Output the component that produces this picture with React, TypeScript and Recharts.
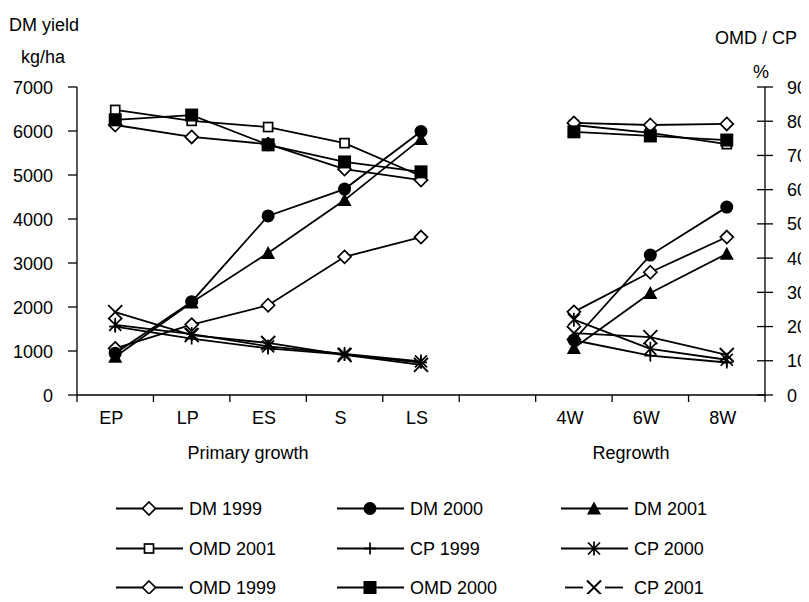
import { LineChart, Line, XAxis, YAxis } from "recharts";

const categories = ["EP", "LP", "ES", "S", "LS", "", "4W", "6W", "8W"];

// kg/ha, left axis
const dm1999 = [1060, 1600, 2040, 3140, 3590, null, 1890, 2790, 3590];
const dm2000 = [950, 2120, 4070, 4680, 5990, null, 1250, 3180, 4270];
const dm2001 = [870, 2100, 3230, 4430, 5820, null, 1070, 2320, 3210];
// %, right axis
const omd2001 = [83.3, 80.1, 78.3, 73.6, 64.0, null, 78.9, 76.6, 73.3];
const cp1999 = [20.0, 16.5, 13.6, 11.8, 9.5, null, 16.0, 11.5, 9.5];
const cp2000 = [20.5, 17.8, 14.2, 12.0, 9.8, null, 22.0, 13.5, 10.3];
const omd1999 = [78.9, 75.4, 73.3, 66.0, 62.8, null, 79.5, 78.9, 79.2];
const omd2000 = [80.4, 81.8, 73.1, 68.1, 65.2, null, 76.9, 75.7, 74.5];
const cp2001 = [24.2, 17.5, 15.2, 11.7, 8.8, null, 18.1, 16.9, 11.7];

const leftTicks = [0, 1000, 2000, 3000, 4000, 5000, 6000, 7000];
const rightTicks = [0, 10, 20, 30, 40, 50, 60, 70, 80, 90];

const series = [
  { key: "dm1999", label: "DM 1999", values: dm1999, axis: "left", shape: "diamond" },
  { key: "dm2000", label: "DM 2000", values: dm2000, axis: "left", shape: "circle" },
  { key: "dm2001", label: "DM 2001", values: dm2001, axis: "left", shape: "triangle" },
  { key: "omd2001", label: "OMD 2001", values: omd2001, axis: "right", shape: "square" },
  { key: "cp1999", label: "CP 1999", values: cp1999, axis: "right", shape: "plus" },
  { key: "cp2000", label: "CP 2000", values: cp2000, axis: "right", shape: "star" },
  { key: "omd1999", label: "OMD 1999", values: omd1999, axis: "right", shape: "diamond" },
  { key: "omd2000", label: "OMD 2000", values: omd2000, axis: "right", shape: "fsquare" },
  { key: "cp2001", label: "CP 2001", values: cp2001, axis: "right", shape: "x" },
];

const data = categories.map((cat, i) => {
  const row: any = { cat };
  series.forEach((s) => (row[s.key] = s.values[i]));
  return row;
});

const FONT = "'Liberation Sans', Arial, sans-serif";
const W = 801;
const H = 586;
const PLOT_L = 69;
const PLOT_R = 757;
const BAND = (PLOT_R - PLOT_L) / categories.length;

const Marker = ({ shape, cx, cy }: any) => {
  const sw = 1.7;
  switch (shape) {
    case "diamond":
      return (
        <polygon
          points={`${cx},${cy - 6.5} ${cx + 6.5},${cy} ${cx},${cy + 6.5} ${cx - 6.5},${cy}`}
          fill="#fff"
          stroke="#000"
          strokeWidth={sw}
        />
      );
    case "circle":
      return <circle cx={cx} cy={cy} r={6.5} fill="#000" />;
    case "triangle":
      return <polygon points={`${cx},${cy - 7} ${cx + 7},${cy + 6} ${cx - 7},${cy + 6}`} fill="#000" />;
    case "square":
      return <rect x={cx - 4.5} y={cy - 4.5} width={9} height={9} fill="#fff" stroke="#000" strokeWidth={sw} />;
    case "fsquare":
      return <rect x={cx - 6.5} y={cy - 6.5} width={13} height={13} fill="#000" />;
    case "plus":
      return (
        <g stroke="#000" strokeWidth={sw}>
          <line x1={cx - 6} y1={cy} x2={cx + 6} y2={cy} />
          <line x1={cx} y1={cy - 6} x2={cx} y2={cy + 6} />
        </g>
      );
    case "star":
      return (
        <g stroke="#000" strokeWidth={sw}>
          <line x1={cx - 6} y1={cy - 6} x2={cx + 6} y2={cy + 6} />
          <line x1={cx - 6} y1={cy + 6} x2={cx + 6} y2={cy - 6} />
          <line x1={cx} y1={cy - 7} x2={cx} y2={cy + 7} />
        </g>
      );
    case "x":
      return (
        <g stroke="#000" strokeWidth={1.9}>
          <line x1={cx - 7} y1={cy - 7} x2={cx + 7} y2={cy + 7} />
          <line x1={cx - 7} y1={cy + 7} x2={cx + 7} y2={cy - 7} />
        </g>
      );
    default:
      return null;
  }
};

const makeDot = (shape: string, key: string) => (p: any) => {
  const k = `${key}-${p.index}`;
  if (p.value == null || p.cy == null || isNaN(p.cy)) return <g key={k} />;
  return (
    <g key={k}>
      <Marker shape={shape} cx={p.cx} cy={p.cy} />
    </g>
  );
};

const CatTick = (props: any) => {
  const { x, y, payload, index } = props;
  const left = x - BAND / 2;
  return (
    <g>
      <line x1={left} y1={y} x2={left} y2={y + 7} stroke="#000" strokeWidth={1.3} />
      {index === categories.length - 1 && (
        <line x1={x + BAND / 2} y1={y} x2={x + BAND / 2} y2={y + 7} stroke="#000" strokeWidth={1.3} />
      )}
      <text x={x - 4} y={y + 29} textAnchor="middle" fontSize={18} fontFamily={FONT} fill="#000">
        {payload.value}
      </text>
    </g>
  );
};

const RightTick = (props: any) => {
  const { x, y, payload } = props;
  const axisX = x - 8 - 14;
  return (
    <g>
      <line x1={axisX - 8} y1={y} x2={axisX} y2={y} stroke="#000" strokeWidth={1.3} />
      <text x={x} y={y + 6.5} textAnchor="start" fontSize={18} fontFamily={FONT} fill="#000">
        {payload.value}
      </text>
    </g>
  );
};

const LeftTick = (props: any) => {
  const { x, y, payload } = props;
  return (
    <text x={x} y={y + 6.5} textAnchor="end" fontSize={18} fontFamily={FONT} fill="#000">
      {payload.value}
    </text>
  );
};

const legendCols = [108, 329, 553];
const legendRows = [507, 547, 586];

const LegendOverlay = () => (
  <svg
    width={W}
    height={H}
    style={{ position: "absolute", left: 0, top: 0, overflow: "visible", pointerEvents: "none" }}
  >
    <g fontFamily={FONT} fontSize={18} fill="#000">
      <text x={1} y={23}>DM yield</text>
      <text x={13} y={55}>kg/ha</text>
      <text x={707} y={36}>OMD / CP</text>
      <text x={745} y={70}>%</text>
      <text x={240} y={451} textAnchor="middle">Primary growth</text>
      <text x={623} y={451} textAnchor="middle">Regrowth</text>
    </g>
    {series.map((s, i) => {
      const lx = legendCols[i % 3];
      const base = legendRows[Math.floor(i / 3)];
      const ly = base - 6.5;
      return (
        <g key={s.key}>
          {s.shape === "x" ? (
            <g stroke="#000" strokeWidth={1.8}>
              <line x1={lx + 4} y1={ly} x2={lx + 22} y2={ly} />
              <line x1={lx + 44} y1={ly} x2={lx + 62} y2={ly} />
            </g>
          ) : (
            <line x1={lx} y1={ly} x2={lx + 67} y2={ly} stroke="#000" strokeWidth={1.8} />
          )}
          <Marker shape={s.shape} cx={lx + 33} cy={ly} />
          <text x={lx + 73} y={base} fontFamily={FONT} fontSize={18} fill="#000">
            {s.label}
          </text>
        </g>
      );
    })}
  </svg>
);

export default function App() {
  return (
    <div style={{ position: "relative", width: W, height: H, background: "#fff" }}>
      <LineChart
        width={W}
        height={H}
        data={data}
        margin={{ top: 79, right: 0, bottom: 169, left: 0 }}
      >
        <XAxis
          dataKey="cat"
          scale="band"
          interval={0}
          height={30}
          tickLine={false}
          tickSize={0}
          tickMargin={0}
          axisLine={{ stroke: "#000", strokeWidth: 1.3 }}
          tick={<CatTick />}
        />
        <YAxis
          yAxisId="left"
          orientation="left"
          width={69}
          domain={[0, 7000]}
          ticks={leftTicks}
          interval={0}
          tickSize={9}
          tickMargin={15}
          tickLine={{ stroke: "#000", strokeWidth: 1.3 }}
          axisLine={{ stroke: "#000", strokeWidth: 1.3 }}
          tick={<LeftTick />}
        />
        <YAxis
          yAxisId="right"
          orientation="right"
          width={W - PLOT_R}
          domain={[0, 90]}
          ticks={rightTicks}
          interval={0}
          tickSize={8}
          tickMargin={14}
          tickLine={{ stroke: "#000", strokeWidth: 1.3 }}
          axisLine={{ stroke: "#000", strokeWidth: 1.3 }}
          tick={<RightTick />}
        />
        {series.map((s) => (
          <Line
            key={s.key}
            dataKey={s.key}
            yAxisId={s.axis}
            type="linear"
            stroke="#000"
            strokeWidth={1.8}
            dot={makeDot(s.shape, s.key)}
            activeDot={false}
            connectNulls={false}
            isAnimationActive={false}
          />
        ))}
      </LineChart>
      <LegendOverlay />
    </div>
  );
}
